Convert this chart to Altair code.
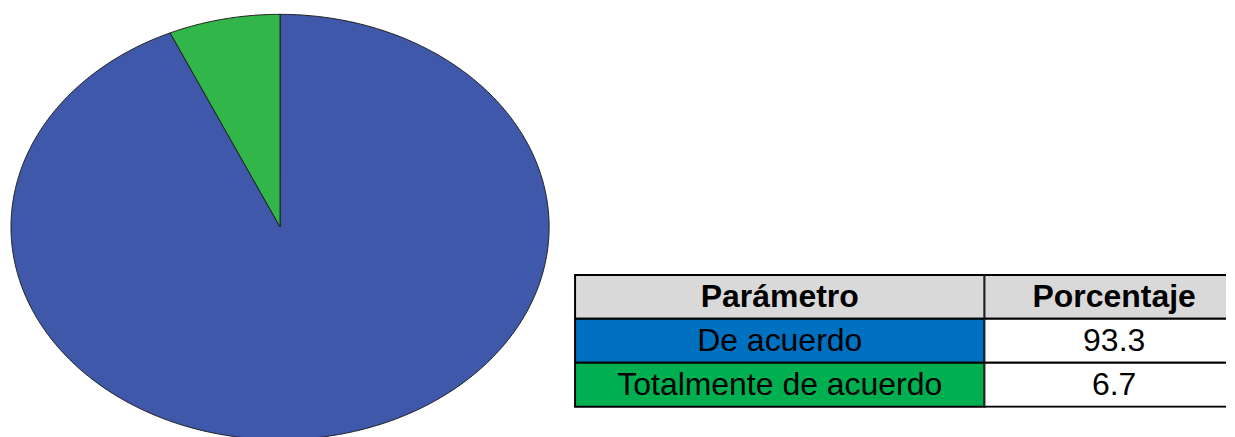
import math
import numpy as np
import pandas as pd
import altair as alt

# ---- data ----
categories = ["De acuerdo", "Totalmente de acuerdo"]
percent = [93.3, 6.7]
header = ["Parámetro", "Porcentaje"]
value_labels = ["93.3", "6.7"]

PIE_COLORS = ["#3f58aa", "#32b649"]
TABLE_COLORS = ["#d9d9d9", "#0070c0", "#00b050", "#ffffff"]
FONT = "Arial, Liberation Sans"
FS = 32

# ---- pie polygons (clockwise from 12 o'clock) ----
rows = []
total = sum(percent)
start = 0.0
for cat, p in zip(categories, percent):
    a0 = start / total * 2 * math.pi
    a1 = (start + p) / total * 2 * math.pi
    n = max(2, int(math.ceil((a1 - a0) / math.radians(0.5))))
    pts = [(0.0, 0.0)] + [(math.sin(a), math.cos(a)) for a in np.linspace(a0, a1, n + 1)] + [(0.0, 0.0)]
    for i, (px, py) in enumerate(pts):
        rows.append({"slice": cat, "i": i, "px": px, "py": py})
    start += p
pie_df = pd.DataFrame(rows)

pie = alt.Chart(pie_df).mark_line(stroke="#1e1e1e", strokeWidth=1, strokeJoin="round").encode(
    x=alt.X("px:Q", scale=alt.Scale(domain=[-1, 1], nice=False, zero=False), axis=None),
    y=alt.Y("py:Q", scale=alt.Scale(domain=[-1, 1], nice=False, zero=False), axis=None),
    order="i:Q",
    detail="slice:N",
    fill=alt.Fill("slice:N", scale=alt.Scale(domain=categories, range=PIE_COLORS), legend=None),
).properties(width=539, height=426)

# ---- table ----
def column(texts, roles, width, dx=0, open_right=False):
    df = pd.DataFrame({"row": [0, 1, 2], "text": texts, "role": roles})
    base = alt.Chart(df).encode(
        y=alt.Y("row:O", axis=None, scale=alt.Scale(paddingInner=0, paddingOuter=0.0227))
    )
    rect = base.mark_rect(stroke="black", strokeWidth=2, clip=open_right).encode(
        x=alt.value(0),
        x2=alt.value(width + 30) if open_right else alt.value("width"),
        fill=alt.Fill("role:N",
                      scale=alt.Scale(domain=["header", categories[0], categories[1], "value"],
                                      range=TABLE_COLORS),
                      legend=None),
    )
    head = base.mark_text(font=FONT, fontSize=FS, fontWeight="bold", color="black",
                          baseline="middle", dx=dx).encode(text="text:N").transform_filter("datum.row == 0")
    body = base.mark_text(font=FONT, fontSize=FS, color="black",
                          baseline="middle", dx=dx).encode(text="text:N").transform_filter("datum.row > 0")
    return alt.layer(rect, head, body).properties(width=width, height=134)

col1 = column([header[0]] + categories, ["header"] + categories, 410)
col2 = column([header[1]] + value_labels, ["header", "value", "value"], 242, dx=9, open_right=True)

spacer = alt.Chart(pd.DataFrame({"a": [0]})).mark_point(opacity=0, size=1).encode(
    x=alt.value(5), y=alt.value(100)
).properties(width=10, height=260)

table = alt.hconcat(col1, col2, spacing=0, bounds="flush")
right = alt.vconcat(spacer, table, spacing=0, bounds="flush")

chart = alt.hconcat(pie, right, spacing=26, bounds="flush").properties(
    padding={"left": 2, "top": 5, "right": 0, "bottom": 0},
    background="white",
).resolve_scale(fill="independent").configure_view(stroke="transparent")

chart.save("out.html", embed_options={"renderer": "svg", "actions": False})
